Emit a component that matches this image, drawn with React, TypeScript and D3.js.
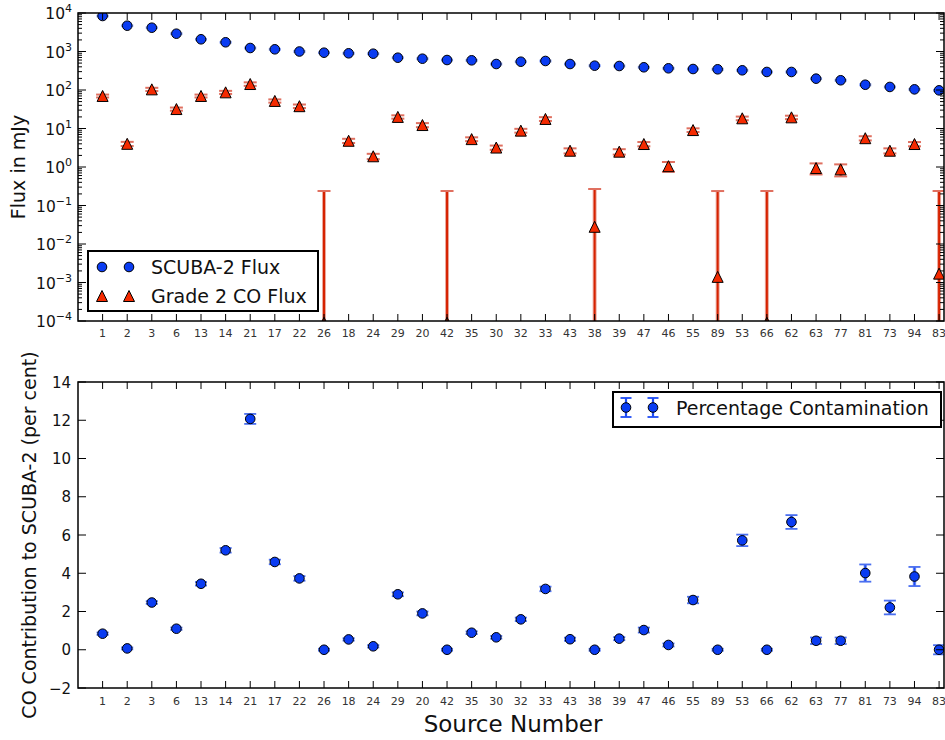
import React from 'react';
import * as d3 from 'd3';

// source numbers along the x axis
const sources = ['1', '2', '3', '6', '13', '14', '21', '17', '22', '26', '18', '24', '29', '20', '42', '35', '30', '32', '33', '43', '38', '39', '47', '46', '55', '89', '53', '66', '62', '63', '77', '81', '73', '94', '83'];

// top panel: SCUBA-2 flux (mJy)
const scubaFlux = [8360, 4680, 4150, 2900, 2075, 1735, 1233, 1140, 1000, 931, 898, 877, 690, 650, 601, 590, 473, 543, 567, 473, 428, 420, 389, 366, 351, 345, 325, 294, 294, 197, 179, 137, 120, 104, 98];
const scubaErr = [300, 170, 150, 110, 80, 65, 50, 45, 40, 35, 35, 35, 27, 25, 24, 23, 19, 21, 22, 19, 17, 17, 15, 14, 14, 14, 13, 12, 12, 8, 7, 6, 5, 4, 4];

// top panel: grade 2 CO flux (mJy)
const coFlux = [70, 4.0, 104, 32, 70, 87, 143, 52, 38, 0.00009, 4.8, 1.9, 20, 12.3, 0.00009, 5.3, 3.2, 8.8, 17.7, 2.65, 0.028, 2.5, 3.95, 1.05, 9.1, 0.0014, 18.4, 0.00009, 19.5, 0.94, 0.87, 5.6, 2.65, 3.95, 0.0017];
const coErr = [6, 0.5, 10, 3, 6, 8, 15, 5, 4, 0.238, 0.6, 0.3, 2, 1.5, 0.238, 0.6, 0.4, 1, 2, 0.4, 0.24, 0.4, 0.5, 0.3, 1, 0.236, 2, 0.238, 2, 0.3, 0.3, 0.7, 0.4, 0.5, 0.236];

// bottom panel: CO contribution to SCUBA-2 (per cent)
const contamination = [0.84, 0.07, 2.47, 1.1, 3.45, 5.2, 12.07, 4.59, 3.73, 0.0, 0.54, 0.18, 2.9, 1.9, 0.0, 0.89, 0.65, 1.59, 3.18, 0.55, 0.0, 0.58, 1.03, 0.25, 2.6, 0.0, 5.72, 0.0, 6.68, 0.47, 0.47, 4.01, 2.21, 3.83, 0.0];
const contaminationErr = [0.06, 0.05, 0.07, 0.06, 0.09, 0.12, 0.26, 0.12, 0.12, 0.05, 0.06, 0.06, 0.1, 0.1, 0.05, 0.07, 0.07, 0.09, 0.12, 0.08, 0.05, 0.08, 0.13, 0.08, 0.17, 0.05, 0.3, 0.05, 0.36, 0.17, 0.17, 0.45, 0.36, 0.5, 0.24];

const logExponents = [-4, -3, -2, -1, 0, 1, 2, 3, 4];
const percentTicks = [-2, 0, 2, 4, 6, 8, 10, 12, 14];

const FONT = 'DejaVu Sans, sans-serif';
const BLUE = '#0a3cf2';
const RED = '#f52a00';

const left = 78;
const right = 944;
const top1 = 13;
const bot1 = 321;
const top2 = 382;
const bot2 = 688;

const x = d3.scaleLinear().domain([0, 35.2]).range([left, right]);
const yLog = d3.scaleLog().domain([1e-4, 1e4]).range([bot1, top1]);
const yLin = d3.scaleLinear().domain([-2, 14]).range([bot2, top2]);

const tri = (cx: number, cy: number, r: number) =>
  `M${cx},${cy - r}L${cx - r},${cy + r}L${cx + r},${cy + r}Z`;

const App = () => {
  const logMinor = yLog.ticks().filter(v => Math.abs(Math.log10(v) - Math.round(Math.log10(v))) > 1e-6);

  const xTicks = (yTop: number, yBot: number, labelY: number) => (
    <g>
      {sources.map((s, i) => (
        <g key={s + i}>
          <line x1={x(i + 1)} x2={x(i + 1)} y1={yBot} y2={yBot - 7} stroke="#000" strokeWidth={1} />
          <line x1={x(i + 1)} x2={x(i + 1)} y1={yTop} y2={yTop + 7} stroke="#000" strokeWidth={1} />
          <text x={x(i + 1)} y={labelY} textAnchor="middle" fontSize={11} fill="#333">{s}</text>
        </g>
      ))}
    </g>
  );

  return (
    <svg width={945} height={740} style={{ position: 'absolute', left: 0, top: 0, background: '#fff' }} fontFamily={FONT}>
      <defs>
        <clipPath id="clip1"><rect x={left} y={top1} width={right - left} height={bot1 - top1} /></clipPath>
        <clipPath id="clip2"><rect x={left} y={top2} width={right - left} height={bot2 - top2} /></clipPath>
      </defs>
      <rect width={945} height={740} fill="#fff" />

      {/* ---------- top panel ---------- */}
      <g clipPath="url(#clip1)">
        {/* scuba error bars */}
        {scubaFlux.map((v, i) => {
          const cx = x(i + 1);
          const y0 = yLog(v - scubaErr[i]);
          const y1 = yLog(v + scubaErr[i]);
          return (
            <g key={'se' + i} stroke="#4a6ff0" strokeOpacity={0.7} strokeWidth={1.5}>
              <line x1={cx} x2={cx} y1={y0} y2={y1} />
              <line x1={cx - 6} x2={cx + 6} y1={y0} y2={y0} />
              <line x1={cx - 6} x2={cx + 6} y1={y1} y2={y1} />
            </g>
          );
        })}
        {/* CO error bars */}
        {coFlux.map((v, i) => {
          const cx = x(i + 1);
          const lo = v - coErr[i];
          const y0 = lo > 0 ? yLog(lo) : bot1 + 20;
          const y1 = yLog(v + coErr[i]);
          return (
            <g key={'ce' + i}>
              <line x1={cx} x2={cx} y1={y0} y2={y1} stroke="#eba89c" strokeWidth={4} />
              <line x1={cx} x2={cx} y1={y0} y2={y1} stroke="#d62200" strokeWidth={2} />
              <line x1={cx - 6.5} x2={cx + 6.5} y1={y1} y2={y1} stroke="#e07060" strokeWidth={2} />
              {lo > 0 && <line x1={cx - 6.5} x2={cx + 6.5} y1={y0} y2={y0} stroke="#e07060" strokeWidth={2} />}
            </g>
          );
        })}
        {scubaFlux.map((v, i) => (
          <circle key={'sc' + i} cx={x(i + 1)} cy={yLog(v)} r={4.8} fill={BLUE} stroke="#000" strokeWidth={1} />
        ))}
        {coFlux.map((v, i) => (
          <path key={'co' + i} d={tri(x(i + 1), yLog(v), 5.5)} fill={RED} stroke="#000" strokeWidth={1} />
        ))}
      </g>

      {/* top panel axes */}
      <rect x={left} y={top1} width={right - left} height={bot1 - top1} fill="none" stroke="#000" strokeWidth={1.5} />
      {xTicks(top1, bot1, 336.5)}
      {logMinor.map((v, i) => (
        <g key={'mn' + i} stroke="#000" strokeWidth={1}>
          <line x1={left} x2={left + 4} y1={yLog(v)} y2={yLog(v)} />
          <line x1={right} x2={right - 4} y1={yLog(v)} y2={yLog(v)} />
        </g>
      ))}
      {logExponents.map(e => {
        const yy = yLog(Math.pow(10, e));
        return (
          <g key={'le' + e}>
            <line x1={left} x2={left + 8} y1={yy} y2={yy} stroke="#000" strokeWidth={1} />
            <line x1={right} x2={right - 8} y1={yy} y2={yy} stroke="#000" strokeWidth={1} />
            <text x={72} y={yy + 6} textAnchor="end" fontSize={15.5} fill="#111">
              10<tspan dy={-7} fontSize={11}>{e < 0 ? '−' + Math.abs(e) : String(e)}</tspan>
            </text>
          </g>
        );
      })}
      <text transform={`translate(25,${(top1 + bot1) / 2}) rotate(-90)`} textAnchor="middle" fontSize={19} fill="#111">Flux in mJy</text>

      {/* top legend */}
      <rect x={88} y={251} width={230} height={60} fill="#fff" stroke="#000" strokeWidth={2} />
      <circle cx={102} cy={267} r={4.8} fill={BLUE} stroke="#000" strokeWidth={1} />
      <circle cx={129} cy={267} r={4.8} fill={BLUE} stroke="#000" strokeWidth={1} />
      <text x={151} y={274} fontSize={19} fill="#111">SCUBA-2 Flux</text>
      <path d={tri(102, 296, 5.5)} fill={RED} stroke="#000" strokeWidth={1} />
      <path d={tri(129, 296, 5.5)} fill={RED} stroke="#000" strokeWidth={1} />
      <text x={151} y={303} fontSize={19} fill="#111">Grade 2 CO Flux</text>

      {/* ---------- bottom panel ---------- */}
      <g clipPath="url(#clip2)">
        {contamination.map((v, i) => {
          const cx = x(i + 1);
          const y0 = yLin(v - contaminationErr[i]);
          const y1 = yLin(v + contaminationErr[i]);
          return (
            <g key={'pe' + i}>
              <line x1={cx} x2={cx} y1={y0} y2={y1} stroke="#9cb0f2" strokeWidth={3.5} />
              <line x1={cx} x2={cx} y1={y0} y2={y1} stroke="#1f4cf5" strokeWidth={2} />
              <line x1={cx - 6} x2={cx + 6} y1={y0} y2={y0} stroke="#4a6ff0" strokeWidth={1.8} />
              <line x1={cx - 6} x2={cx + 6} y1={y1} y2={y1} stroke="#4a6ff0" strokeWidth={1.8} />
            </g>
          );
        })}
        {contamination.map((v, i) => (
          <circle key={'pc' + i} cx={x(i + 1)} cy={yLin(v)} r={4.8} fill={BLUE} stroke="#000" strokeWidth={1} />
        ))}
      </g>

      <rect x={left} y={top2} width={right - left} height={bot2 - top2} fill="none" stroke="#000" strokeWidth={1.5} />
      {xTicks(top2, bot2, 705)}
      {percentTicks.map(t => (
        <g key={'pt' + t}>
          <line x1={left} x2={left + 8} y1={yLin(t)} y2={yLin(t)} stroke="#000" strokeWidth={1} />
          <line x1={right} x2={right - 8} y1={yLin(t)} y2={yLin(t)} stroke="#000" strokeWidth={1} />
          <text x={71} y={yLin(t) + 5.5} textAnchor="end" fontSize={15} fill="#111">{t < 0 ? '−' + Math.abs(t) : String(t)}</text>
        </g>
      ))}
      <text transform={`translate(36,${(top2 + bot2) / 2}) rotate(-90)`} textAnchor="middle" fontSize={19} fill="#111">CO Contribution to SCUBA-2 (per cent)</text>
      <text x={513} y={732} textAnchor="middle" fontSize={23} fill="#111">Source Number</text>

      {/* bottom legend */}
      <rect x={613} y={392} width={328} height={35} fill="#fff" stroke="#000" strokeWidth={2} />
      {[626, 653].map(cx => (
        <g key={'lg' + cx}>
          <line x1={cx} x2={cx} y1={398} y2={417} stroke="#1f4cf5" strokeWidth={2.2} />
          <line x1={cx - 5.5} x2={cx + 5.5} y1={398} y2={398} stroke="#1f4cf5" strokeWidth={1.8} />
          <line x1={cx - 5.5} x2={cx + 5.5} y1={417} y2={417} stroke="#1f4cf5" strokeWidth={1.8} />
          <circle cx={cx} cy={407.5} r={4.8} fill={BLUE} stroke="#000" strokeWidth={1} />
        </g>
      ))}
      <text x={676} y={414.5} fontSize={19} fill="#111">Percentage Contamination</text>
    </svg>
  );
};

export default App;
